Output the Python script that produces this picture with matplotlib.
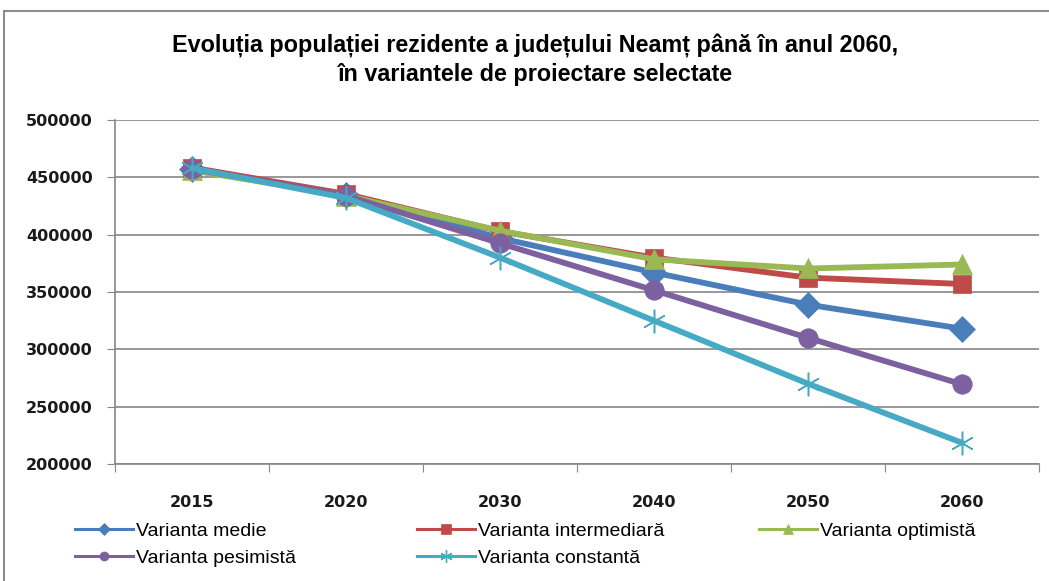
import matplotlib
matplotlib.use('Agg')
import matplotlib.pyplot as plt
from matplotlib.lines import Line2D
from matplotlib.patches import Rectangle

# data
ani = ['2015', '2020', '2030', '2040', '2050', '2060']
medie = [457500, 434500, 397000, 367000, 339000, 318000]
intermediara = [458500, 435500, 403000, 380000, 362500, 357000]
optimista = [456000, 434000, 403500, 378500, 370500, 374000]
pesimista = [457500, 434000, 392500, 351500, 310000, 269500]
constanta = [458000, 432000, 380000, 325000, 270000, 218500]

serii = [
    ('Varianta medie', medie, '#4A7EBB', 'D', 13),
    ('Varianta intermediară', intermediara, '#BE4B48', 's', 12.5),
    ('Varianta optimistă', optimista, '#98B954', '^', 14),
    ('Varianta pesimistă', pesimista, '#7D60A0', 'o', 14),
    ('Varianta constantă', constanta, '#46AAC5', (6, 2, 0), 17),
]

W, H = 1049, 581
fig = plt.figure(figsize=(W / 100, H / 100), dpi=100)

# outer chart frame
fig.patches.append(Rectangle((4 / W, -0.05), 1.1, 1 - 11 / H + 0.05,
                             transform=fig.transFigure, fill=False,
                             edgecolor='#8c8c8c', linewidth=1.5))

ax = fig.add_axes([115 / W, 1 - 464 / H, 924 / W, 344 / H])

x = list(range(len(ani)))
handles = []
for nume, vals, col, mk, ms in serii:
    star = not isinstance(mk, str)
    ax.plot(x, vals, color=col, linewidth=4.2, marker=mk, markersize=ms,
            markerfacecolor=col, markeredgecolor=col,
            markeredgewidth=1.1 if star else 0.5, solid_capstyle='round')
    handles.append(Line2D([0], [0], color=col, linewidth=2.2, marker=mk,
                          markersize=6.5 if not star else 9,
                          markerfacecolor=col, markeredgecolor=col,
                          markeredgewidth=1 if star else 0.5))

ax.set_ylim(200000, 500000)
ax.set_yticks(range(200000, 500001, 50000))
ax.set_xlim(-0.5, len(ani) - 0.5)
ax.set_xticks([i - 0.5 for i in range(len(ani) + 1)])
ax.set_xticklabels([])
ax.set_xticks(x, minor=True)
ax.set_xticklabels(ani, minor=True)
ax.tick_params(axis='x', which='major', length=6, color='#868686', direction='out')
ax.tick_params(axis='x', which='minor', length=0, pad=22, labelsize=11.5)
ax.tick_params(axis='y', length=6, color='#868686', direction='out', pad=10, labelsize=11.5)
for lab in ax.get_xticklabels(minor=True) + ax.get_yticklabels():
    lab.set_fontweight('bold')
    lab.set_color('#1a1a1a')

ax.grid(axis='y', color='#868686', linewidth=1.2)
ax.set_axisbelow(True)
for s in ['top', 'right']:
    ax.spines[s].set_visible(False)
for s in ['left', 'bottom']:
    ax.spines[s].set_color('#868686')
    ax.spines[s].set_linewidth(1.2)

fig.text(535 / W, 1 - 46 / H, 'Evoluția populației rezidente a județului Neamț până în anul 2060,',
         ha='center', va='center', fontsize=16.8, fontweight='bold',
         family=['Liberation Sans', 'DejaVu Sans'])
fig.text(535 / W, 1 - 74 / H, 'în variantele de proiectare selectate',
         ha='center', va='center', fontsize=16.8, fontweight='bold',
         family=['Liberation Sans', 'DejaVu Sans'])

# legend in three columns, placed like the original
coloane = [(75, [0, 3]), (417, [1, 4]), (759, [2])]
for xl, idx in coloane:
    fig.legend([handles[i] for i in idx], [serii[i][0] for i in idx],
               loc='upper left', bbox_to_anchor=(xl / W, 1 - 522 / H),
               frameon=False, handlelength=3.0, handletextpad=0.12,
               borderpad=0, borderaxespad=0, labelspacing=0.5,
               prop={'family': ['Liberation Sans', 'DejaVu Sans'], 'size': 14})

fig.savefig('out.png', dpi=100)
